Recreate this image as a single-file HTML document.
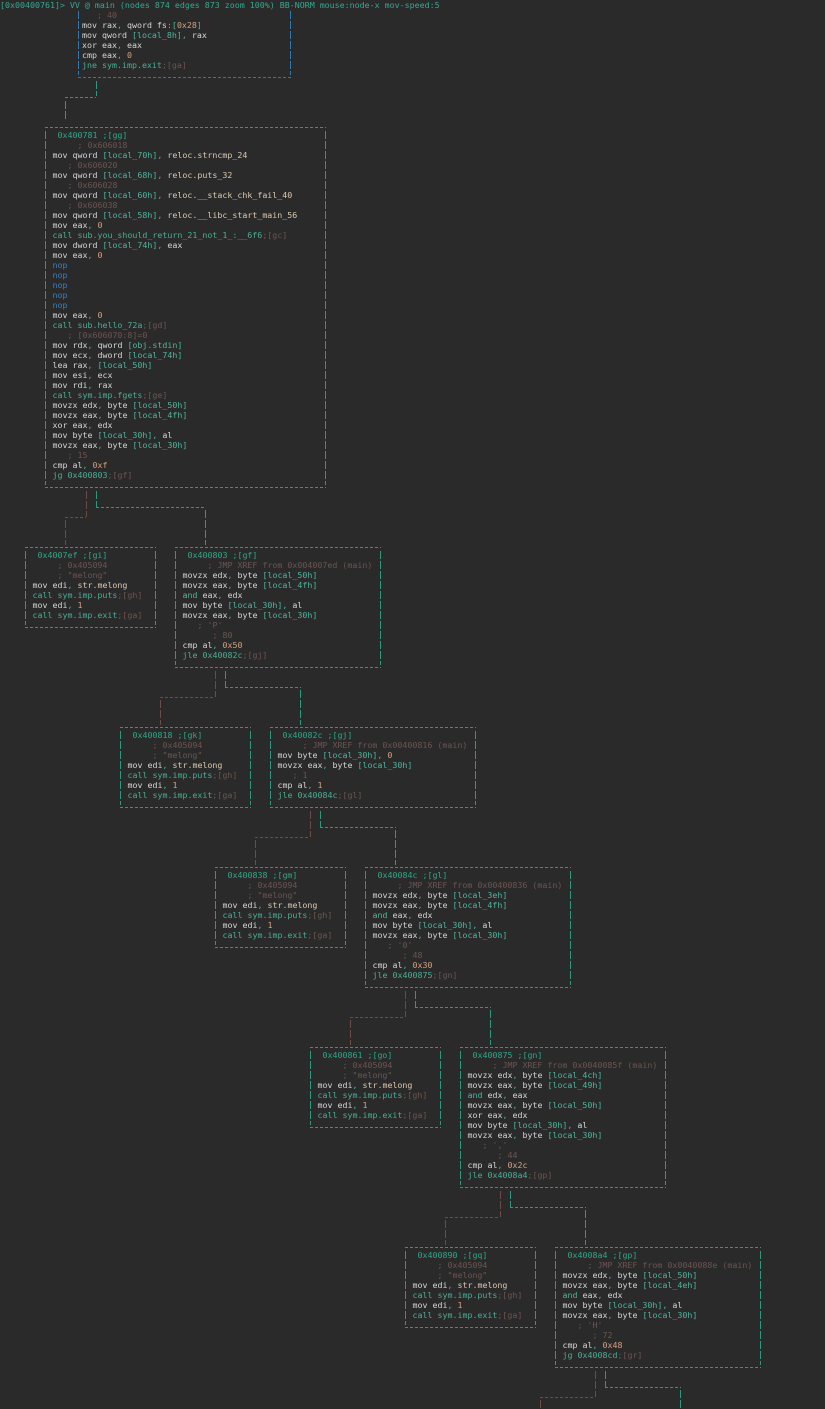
<!DOCTYPE html>
<html><head><meta charset="utf-8"><style>
html,body{margin:0;padding:0;background:#2a2a2a;width:825px;height:1409px;overflow:hidden;position:relative}
pre{position:absolute;margin:0;font-family:"DejaVu Sans Mono","Liberation Mono",monospace;font-size:8.3px;line-height:10px;color:#d6d6d6;white-space:pre}
.h{position:absolute;height:1px;background:repeating-linear-gradient(90deg,currentColor 0 3px,transparent 3px 5px)}
.v{position:absolute;width:1px;background:repeating-linear-gradient(180deg,currentColor 0 8px,transparent 8px 10px)}
.G{color:#2b9a7c}.B{color:#2f76ad}.R{color:#6b4c47}
.k{color:#4fb5a0}.n{color:#d4a27e}.c{color:#6c5551}.s{color:#dcc9ad}.g{color:#4aae96}.p{color:#3d7fc0}.hd{color:#2fa88a}
</style></head><body>
<pre style="left:0;top:0;color:#36a894">[0x00400761]&gt; VV @ main (nodes 874 edges 873 zoom 100%) BB-NORM mouse:node-x mov-speed:5</pre>

<!-- top node -->
<div class="v B" style="left:78px;top:11px;height:64px"></div>
<div class="v B" style="left:290px;top:11px;height:64px"></div>
<div class="h B" style="left:78px;top:77px;width:213px"></div>
<pre style="left:82px;top:10px"><span class="c">   ; 40</span>
mov rax<span class="k">,</span> qword fs<span class="k">:[</span><span class="n">0x28</span><span class="k">]</span>
mov qword <span class="k">[local_8h]</span><span class="k">,</span> rax
xor eax<span class="k">,</span> eax
cmp eax<span class="k">,</span> <span class="n">0</span>
<span class="g">jne sym.imp.exit</span><span class="c">;[ga]</span></pre>
<div class="v G" style="left:96px;top:81px;height:15px"></div>
<div class="h G" style="left:65px;top:97px;width:31px"></div>
<div class="v G" style="left:65px;top:101px;height:18px"></div>

<!-- big node -->
<div class="h G" style="left:45px;top:127px;width:281px"></div>
<div class="h G" style="left:45px;top:487px;width:281px"></div>
<div class="v G" style="left:45px;top:131px;height:354px"></div>
<div class="v G" style="left:325px;top:131px;height:354px"></div>
<pre style="left:52.5px;top:130px"><span class="hd"> 0x400781 ;[gg]</span>
<span class="c">     ; 0x606018</span>
mov qword <span class="k">[local_70h]</span><span class="k">,</span> <span class="s">reloc.strncmp_24</span>
<span class="c">   ; 0x606020</span>
mov qword <span class="k">[local_68h]</span><span class="k">,</span> <span class="s">reloc.puts_32</span>
<span class="c">   ; 0x606028</span>
mov qword <span class="k">[local_60h]</span><span class="k">,</span> <span class="s">reloc.__stack_chk_fail_40</span>
<span class="c">   ; 0x606038</span>
mov qword <span class="k">[local_58h]</span><span class="k">,</span> <span class="s">reloc.__libc_start_main_56</span>
mov eax<span class="k">,</span> <span class="n">0</span>
<span class="g">call sub.you_should_return_21_not_1_:__6f6</span><span class="c">;[gc]</span>
mov dword <span class="k">[local_74h]</span><span class="k">,</span> eax
mov eax<span class="k">,</span> <span class="n">0</span>
<span class="p">nop</span>
<span class="p">nop</span>
<span class="p">nop</span>
<span class="p">nop</span>
<span class="p">nop</span>
mov eax<span class="k">,</span> <span class="n">0</span>
<span class="g">call sub.hello_72a</span><span class="c">;[gd]</span>
<span class="c">   ; [0x606070:8]=0</span>
mov rdx<span class="k">,</span> qword <span class="k">[obj.stdin]</span>
mov ecx<span class="k">,</span> dword <span class="k">[local_74h]</span>
lea rax<span class="k">,</span> <span class="k">[local_50h]</span>
mov esi<span class="k">,</span> ecx
mov rdi<span class="k">,</span> rax
<span class="g">call sym.imp.fgets</span><span class="c">;[ge]</span>
movzx edx<span class="k">,</span> byte <span class="k">[local_50h]</span>
movzx eax<span class="k">,</span> byte <span class="k">[local_4fh]</span>
xor eax<span class="k">,</span> edx
mov byte <span class="k">[local_30h]</span><span class="k">,</span> al
movzx eax<span class="k">,</span> byte <span class="k">[local_30h]</span>
<span class="c">   ; 15</span>
cmp al<span class="k">,</span> <span class="n">0xf</span>
<span class="g">jg 0x400803</span><span class="c">;[gf]</span></pre>

<!-- connectors (brown = false branch, teal = true branch) -->
<div class="v R" style="left:86px;top:491px;height:26px"></div><div class="h R" style="left:65px;top:517px;width:21px"></div><div class="v R" style="left:65px;top:520px;height:25px"></div>
<div class="v G" style="left:96px;top:491px;height:16px"></div><div class="h G" style="left:96px;top:507px;width:110px"></div><div class="v G" style="left:205px;top:510px;height:35px"></div>

<div class="v R" style="left:215px;top:671px;height:26px"></div><div class="h R" style="left:160px;top:697px;width:55px"></div><div class="v R" style="left:160px;top:700px;height:25px"></div>
<div class="v G" style="left:225px;top:671px;height:16px"></div><div class="h G" style="left:225px;top:687px;width:76px"></div><div class="v G" style="left:300px;top:690px;height:35px"></div>

<div class="v R" style="left:310px;top:811px;height:26px"></div><div class="h R" style="left:255px;top:837px;width:55px"></div><div class="v R" style="left:255px;top:840px;height:25px"></div>
<div class="v G" style="left:320px;top:811px;height:16px"></div><div class="h G" style="left:320px;top:827px;width:76px"></div><div class="v G" style="left:395px;top:830px;height:35px"></div>

<div class="v R" style="left:405px;top:991px;height:26px"></div><div class="h R" style="left:350px;top:1017px;width:55px"></div><div class="v R" style="left:350px;top:1020px;height:25px"></div>
<div class="v G" style="left:415px;top:991px;height:16px"></div><div class="h G" style="left:415px;top:1007px;width:76px"></div><div class="v G" style="left:490px;top:1010px;height:35px"></div>

<div class="v R" style="left:500px;top:1191px;height:26px"></div><div class="h R" style="left:445px;top:1217px;width:55px"></div><div class="v R" style="left:445px;top:1220px;height:25px"></div>
<div class="v G" style="left:510px;top:1191px;height:16px"></div><div class="h G" style="left:510px;top:1207px;width:76px"></div><div class="v G" style="left:585px;top:1210px;height:35px"></div>

<div class="v R" style="left:595px;top:1371px;height:26px"></div><div class="h R" style="left:540px;top:1397px;width:55px"></div><div class="v R" style="left:540px;top:1400px;height:12px"></div>
<div class="v G" style="left:605px;top:1371px;height:16px"></div><div class="h G" style="left:605px;top:1387px;width:76px"></div><div class="v G" style="left:680px;top:1390px;height:22px"></div>

<!-- gi -->
<div class="h G" style="left:25px;top:547px;width:131px"></div><div class="h G" style="left:25px;top:627px;width:131px"></div>
<div class="v G" style="left:25px;top:551px;height:74px"></div><div class="v G" style="left:155px;top:551px;height:74px"></div>
<pre style="left:32.5px;top:550px"><span class="hd"> 0x4007ef ;[gi]</span>
<span class="c">     ; 0x405094</span>
<span class="c">     ; "melong"</span>
mov edi<span class="k">,</span> <span class="s">str.melong</span>
<span class="g">call sym.imp.puts</span><span class="c">;[gh]</span>
mov edi<span class="k">,</span> <span class="n">1</span>
<span class="g">call sym.imp.exit</span><span class="c">;[ga]</span></pre>

<!-- gf -->
<div class="h G" style="left:175px;top:547px;width:206px"></div><div class="h G" style="left:175px;top:667px;width:206px"></div>
<div class="v G" style="left:175px;top:551px;height:114px"></div><div class="v G" style="left:380px;top:551px;height:114px"></div>
<pre style="left:182.5px;top:550px"><span class="hd"> 0x400803 ;[gf]</span>
<span class="c">     ; JMP XREF from 0x004007ed (main)</span>
movzx edx<span class="k">,</span> byte <span class="k">[local_50h]</span>
movzx eax<span class="k">,</span> byte <span class="k">[local_4fh]</span>
<span class="k">and</span> eax<span class="k">,</span> edx
mov byte <span class="k">[local_30h]</span><span class="k">,</span> al
movzx eax<span class="k">,</span> byte <span class="k">[local_30h]</span>
<span class="c">   ; 'P'</span>
<span class="c">      ; 80</span>
cmp al<span class="k">,</span> <span class="n">0x50</span>
<span class="g">jle 0x40082c</span><span class="c">;[gj]</span></pre>

<!-- gk -->
<div class="h G" style="left:120px;top:727px;width:131px"></div><div class="h G" style="left:120px;top:807px;width:131px"></div>
<div class="v G" style="left:120px;top:731px;height:74px"></div><div class="v G" style="left:250px;top:731px;height:74px"></div>
<pre style="left:127.5px;top:730px"><span class="hd"> 0x400818 ;[gk]</span>
<span class="c">     ; 0x405094</span>
<span class="c">     ; "melong"</span>
mov edi<span class="k">,</span> <span class="s">str.melong</span>
<span class="g">call sym.imp.puts</span><span class="c">;[gh]</span>
mov edi<span class="k">,</span> <span class="n">1</span>
<span class="g">call sym.imp.exit</span><span class="c">;[ga]</span></pre>

<!-- gj -->
<div class="h G" style="left:270px;top:727px;width:206px"></div><div class="h G" style="left:270px;top:807px;width:206px"></div>
<div class="v G" style="left:270px;top:731px;height:74px"></div><div class="v G" style="left:475px;top:731px;height:74px"></div>
<pre style="left:277.5px;top:730px"><span class="hd"> 0x40082c ;[gj]</span>
<span class="c">     ; JMP XREF from 0x00400816 (main)</span>
mov byte <span class="k">[local_30h]</span><span class="k">,</span> <span class="n">0</span>
movzx eax<span class="k">,</span> byte <span class="k">[local_30h]</span>
<span class="c">   ; 1</span>
cmp al<span class="k">,</span> <span class="n">1</span>
<span class="g">jle 0x40084c</span><span class="c">;[gl]</span></pre>

<!-- gm -->
<div class="h G" style="left:215px;top:867px;width:131px"></div><div class="h G" style="left:215px;top:947px;width:131px"></div>
<div class="v G" style="left:215px;top:871px;height:74px"></div><div class="v G" style="left:345px;top:871px;height:74px"></div>
<pre style="left:222.5px;top:870px"><span class="hd"> 0x400838 ;[gm]</span>
<span class="c">     ; 0x405094</span>
<span class="c">     ; "melong"</span>
mov edi<span class="k">,</span> <span class="s">str.melong</span>
<span class="g">call sym.imp.puts</span><span class="c">;[gh]</span>
mov edi<span class="k">,</span> <span class="n">1</span>
<span class="g">call sym.imp.exit</span><span class="c">;[ga]</span></pre>

<!-- gl -->
<div class="h G" style="left:365px;top:867px;width:206px"></div><div class="h G" style="left:365px;top:987px;width:206px"></div>
<div class="v G" style="left:365px;top:871px;height:114px"></div><div class="v G" style="left:570px;top:871px;height:114px"></div>
<pre style="left:372.5px;top:870px"><span class="hd"> 0x40084c ;[gl]</span>
<span class="c">     ; JMP XREF from 0x00400836 (main)</span>
movzx edx<span class="k">,</span> byte <span class="k">[local_3eh]</span>
movzx eax<span class="k">,</span> byte <span class="k">[local_4fh]</span>
<span class="k">and</span> eax<span class="k">,</span> edx
mov byte <span class="k">[local_30h]</span><span class="k">,</span> al
movzx eax<span class="k">,</span> byte <span class="k">[local_30h]</span>
<span class="c">   ; '0'</span>
<span class="c">      ; 48</span>
cmp al<span class="k">,</span> <span class="n">0x30</span>
<span class="g">jle 0x400875</span><span class="c">;[gn]</span></pre>

<!-- go -->
<div class="h G" style="left:310px;top:1047px;width:131px"></div><div class="h G" style="left:310px;top:1127px;width:131px"></div>
<div class="v G" style="left:310px;top:1051px;height:74px"></div><div class="v G" style="left:440px;top:1051px;height:74px"></div>
<pre style="left:317.5px;top:1050px"><span class="hd"> 0x400861 ;[go]</span>
<span class="c">     ; 0x405094</span>
<span class="c">     ; "melong"</span>
mov edi<span class="k">,</span> <span class="s">str.melong</span>
<span class="g">call sym.imp.puts</span><span class="c">;[gh]</span>
mov edi<span class="k">,</span> <span class="n">1</span>
<span class="g">call sym.imp.exit</span><span class="c">;[ga]</span></pre>

<!-- gn -->
<div class="h G" style="left:460px;top:1047px;width:206px"></div><div class="h G" style="left:460px;top:1187px;width:206px"></div>
<div class="v G" style="left:460px;top:1051px;height:134px"></div><div class="v G" style="left:665px;top:1051px;height:134px"></div>
<pre style="left:467.5px;top:1050px"><span class="hd"> 0x400875 ;[gn]</span>
<span class="c">     ; JMP XREF from 0x0040085f (main)</span>
movzx edx<span class="k">,</span> byte <span class="k">[local_4ch]</span>
movzx eax<span class="k">,</span> byte <span class="k">[local_49h]</span>
<span class="k">and</span> edx<span class="k">,</span> eax
movzx eax<span class="k">,</span> byte <span class="k">[local_50h]</span>
xor eax<span class="k">,</span> edx
mov byte <span class="k">[local_30h]</span><span class="k">,</span> al
movzx eax<span class="k">,</span> byte <span class="k">[local_30h]</span>
<span class="c">   ; ','</span>
<span class="c">      ; 44</span>
cmp al<span class="k">,</span> <span class="n">0x2c</span>
<span class="g">jle 0x4008a4</span><span class="c">;[gp]</span></pre>

<!-- gq -->
<div class="h G" style="left:405px;top:1247px;width:131px"></div><div class="h G" style="left:405px;top:1327px;width:131px"></div>
<div class="v G" style="left:405px;top:1251px;height:74px"></div><div class="v G" style="left:535px;top:1251px;height:74px"></div>
<pre style="left:412.5px;top:1250px"><span class="hd"> 0x400890 ;[gq]</span>
<span class="c">     ; 0x405094</span>
<span class="c">     ; "melong"</span>
mov edi<span class="k">,</span> <span class="s">str.melong</span>
<span class="g">call sym.imp.puts</span><span class="c">;[gh]</span>
mov edi<span class="k">,</span> <span class="n">1</span>
<span class="g">call sym.imp.exit</span><span class="c">;[ga]</span></pre>

<!-- gp -->
<div class="h G" style="left:555px;top:1247px;width:206px"></div><div class="h G" style="left:555px;top:1367px;width:206px"></div>
<div class="v G" style="left:555px;top:1251px;height:114px"></div><div class="v G" style="left:760px;top:1251px;height:114px"></div>
<pre style="left:562.5px;top:1250px"><span class="hd"> 0x4008a4 ;[gp]</span>
<span class="c">     ; JMP XREF from 0x0040088e (main)</span>
movzx edx<span class="k">,</span> byte <span class="k">[local_50h]</span>
movzx eax<span class="k">,</span> byte <span class="k">[local_4eh]</span>
<span class="k">and</span> eax<span class="k">,</span> edx
mov byte <span class="k">[local_30h]</span><span class="k">,</span> al
movzx eax<span class="k">,</span> byte <span class="k">[local_30h]</span>
<span class="c">   ; 'H'</span>
<span class="c">      ; 72</span>
cmp al<span class="k">,</span> <span class="n">0x48</span>
<span class="g">jg 0x4008cd</span><span class="c">;[gr]</span></pre>
</body></html>
